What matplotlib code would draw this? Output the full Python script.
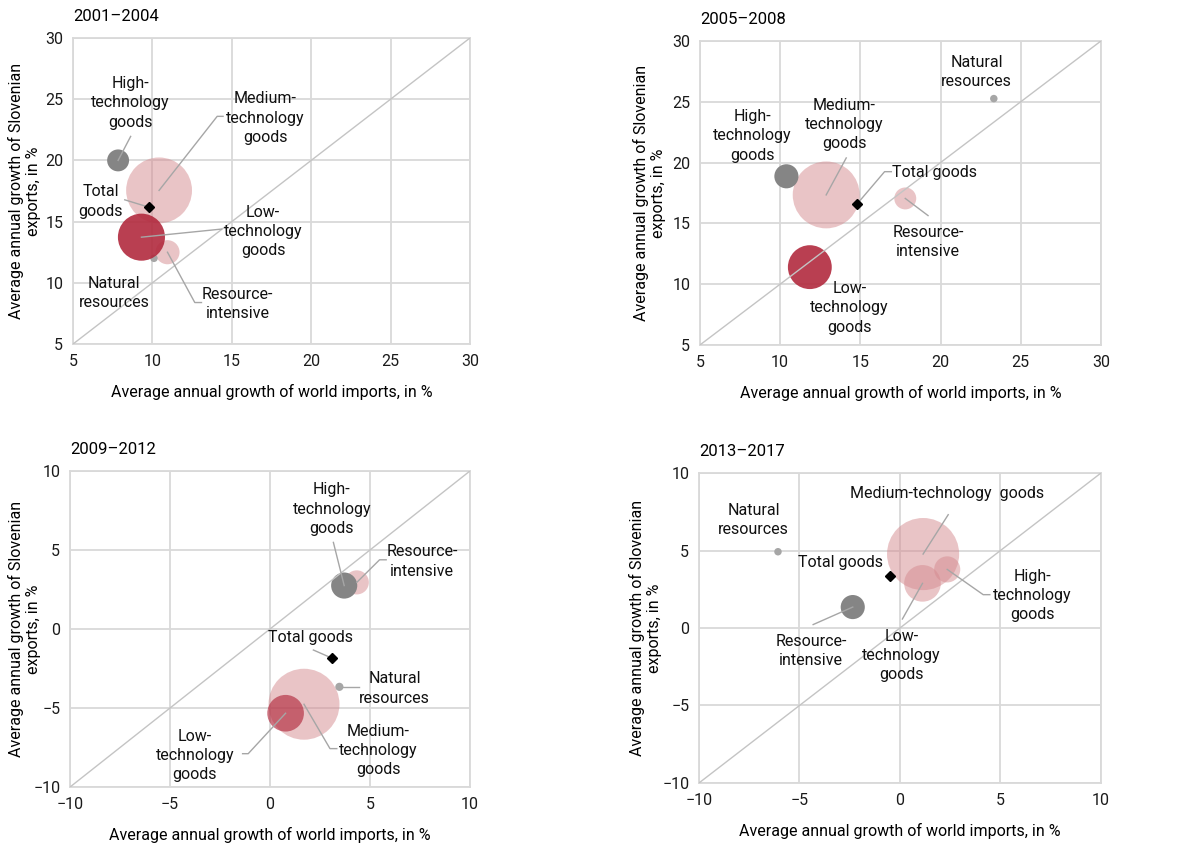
import numpy as np
import matplotlib
matplotlib.use('Agg')
import matplotlib.pyplot as plt

plt.rcParams['font.family'] = ['Roboto', 'DejaVu Sans']
plt.rcParams['font.size'] = 11.5

# 期间与类别
periods = ['2001–2004', '2005–2008', '2009–2012', '2013–2017']
categories = ['high', 'medium', 'low', 'resource', 'natural']

# 世界进口年均增长 (x) 与斯洛文尼亚出口年均增长 (y), 按 categories 顺序
world_imports = [
    [7.84, 10.42, 9.31, 10.95, 10.1],
    [10.39, 12.87, 11.85, 17.8, 23.32],
    [3.71, 1.70, 0.78, 4.34, 3.47],
    [2.35, 1.15, 1.12, -2.35, -6.07],
]
slo_exports = [
    [20.0, 17.55, 13.73, 12.5, 12.0],
    [18.87, 17.34, 11.4, 17.05, 25.26],
    [2.75, -4.76, -5.33, 2.95, -3.66],
    [3.78, 4.77, 2.88, 1.35, 4.92],
]
# 气泡大小 (出口份额, %)
export_share = [
    [4.3, 38.8, 19.8, 5.2, 0.5],
    [5.2, 40.0, 17.2, 4.3, 0.5],
    [6.1, 45.0, 12.0, 5.2, 0.6],
    [6.1, 46.5, 12.0, 5.2, 0.5],
]
# 总计
total_world = [9.77, 14.78, 3.09, -0.52]
total_slo = [16.18, 16.57, -1.84, 3.33]

axis_ranges = [(5, 30), (5, 30), (-10, 10), (-10, 10)]
tick_steps = [5, 5, 5, 5]

# 颜色
pink = ('#d58a8f', 0.5)
darkred = ('#b22a3e', 0.9)
gray = ('#858585', 1.0)
lightgray = ('#a6a6a6', 1.0)
colors = [
    {'high': gray, 'medium': pink, 'low': darkred, 'resource': pink, 'natural': lightgray},
    {'high': gray, 'medium': pink, 'low': darkred, 'resource': pink, 'natural': lightgray},
    {'high': gray, 'medium': pink, 'low': ('#b22a3e', 0.65), 'resource': pink, 'natural': lightgray},
    {'high': pink, 'medium': pink, 'low': pink, 'resource': gray, 'natural': lightgray},
]
draw_order = [
    ['medium', 'resource', 'natural', 'low', 'high'],
    ['medium', 'resource', 'natural', 'low', 'high'],
    ['medium', 'resource', 'high', 'low', 'natural'],
    ['medium', 'low', 'high', 'resource', 'natural'],
]

names = {
    'high': 'High-\ntechnology\ngoods',
    'medium': 'Medium-\ntechnology\ngoods',
    'low': 'Low-\ntechnology\ngoods',
    'resource': 'Resource-\nintensive',
    'natural': 'Natural\nresources',
    'total': 'Total\ngoods',
}

# 标签位置与引线折点
layouts = [
    {
        'high': ((8.63, 24.69), [(8.63, 21.96)]),
        'medium': ((17.12, 23.46), [(14.45, 23.6), (14.08, 23.6)]),
        'total': ((6.74, 16.65), [(8.26, 16.78)]),
        'low': ((16.97, 14.2), [(14.35, 14.39)]),
        'resource': ((15.36, 8.28), [(13.09, 8.39), (12.67, 8.39)]),
        'natural': ((7.58, 9.2), []),
    },
    {
        'natural': ((22.24, 27.45), []),
        'high': ((8.25, 22.2), []),
        'medium': ((14.01, 23.12), [(14.12, 20.38)]),
        'total': ((19.6, 19.2), [(16.93, 19.25), (16.51, 19.25)]),
        'resource': ((19.22, 13.47), [(19.22, 15.64)]),
        'low': ((14.33, 8.04), []),
    },
    {
        'high': ((3.09, 7.59), [(3.17, 5.48)]),
        'resource': ((7.6, 4.27), [(5.81, 4.38), (5.48, 4.38)]),
        'total': ((2.05, -0.55), [(2.17, -1.33)]),
        'natural': ((6.23, -3.76), [(4.47, -3.66)]),
        'medium': ((5.43, -7.67), [(3.34, -7.57), (3.0, -7.57)]),
        'low': ((-3.76, -7.99), [(-1.37, -7.89), (-1.09, -7.89)]),
    },
    {
        'natural': ((-7.28, 6.99), []),
        'total': ((-2.96, 4.24), []),
        'medium': ((2.32, 8.65), [(2.40, 7.31)]),
        'resource': ((-4.41, -1.5), [(-4.32, 0.22)]),
        'high': ((6.6, 2.09), [(4.47, 2.15), (4.14, 2.15)]),
        'low': ((0.07, -1.76), [(0.12, 0.58)]),
    },
]
single_line = [{}, {'total': 'Total goods'}, {'total': 'Total goods'},
               {'total': 'Total goods', 'medium': 'Medium-technology  goods'}]

axes_rects = [
    [0.0613, 0.5943, 0.3333, 0.3609],
    [0.5877, 0.5932, 0.3367, 0.3585],
    [0.0588, 0.0719, 0.3358, 0.3727],
    [0.5869, 0.0767, 0.3375, 0.3655],
]
# y轴标题右边缘 (像素)
ylabel_px = [41, 666, 41, 662]

W, H = 1191, 848
grid_c = '#d9d9d9'
fig = plt.figure(figsize=(W / 100, H / 100), dpi=100)

for p in range(4):
    ax = fig.add_axes(axes_rects[p])
    lo, hi = axis_ranges[p]
    ax.set_xlim(lo, hi)
    ax.set_ylim(lo, hi)
    ticks = np.arange(lo, hi + 0.1, tick_steps[p])
    ax.set_xticks(ticks)
    ax.set_yticks(ticks)
    ax.tick_params(length=0, labelsize=11.5, colors='#1a1a1a', pad=7)
    ax.grid(True, color=grid_c, linewidth=1.3)
    ax.set_axisbelow(True)
    for s in ax.spines.values():
        s.set_color(grid_c)
        s.set_linewidth(1.3)

    # 45度线
    ax.plot([lo, hi], [lo, hi], color='#c4c4c4', linewidth=1, zorder=6)

    idx = {c: i for i, c in enumerate(categories)}
    for c in draw_order[p]:
        i = idx[c]
        col, a = colors[p][c]
        ax.scatter(world_imports[p][i], slo_exports[p][i], s=export_share[p][i] * 58,
                   color=col, alpha=a, edgecolors='none', zorder=3)
    ax.plot(total_world[p], total_slo[p], marker='D', color='black', markersize=5.5,
            linestyle='none', zorder=8)

    for key, (txt_xy, knees) in layouts[p].items():
        text = single_line[p].get(key, names[key])
        if key == 'total':
            px, py = total_world[p], total_slo[p]
        else:
            px, py = world_imports[p][idx[key]], slo_exports[p][idx[key]]
        ax.text(txt_xy[0], txt_xy[1], text, ha='center', va='center',
                multialignment='center', linespacing=1.35, fontsize=11.5, color='#111111', zorder=9)
        if knees:
            xs = [k[0] for k in knees] + [px]
            ys = [k[1] for k in knees] + [py]
            ax.plot(xs, ys, color='#a6a6a6', linewidth=1, zorder=7)

    ax.set_xlabel('Average annual growth of world imports, in %', fontsize=11.5, labelpad=11)
    ax.set_ylabel('Average annual growth of Slovenian\nexports, in %', fontsize=11.5,
                  linespacing=1.2)
    left_px = axes_rects[p][0] * W
    ax.yaxis.set_label_coords((ylabel_px[p] - left_px) / (axes_rects[p][2] * W), 0.5)
    ax.text(0, 1.045, periods[p], transform=ax.transAxes, ha='left', va='bottom', fontsize=12)

plt.savefig('out.png', dpi=100)
